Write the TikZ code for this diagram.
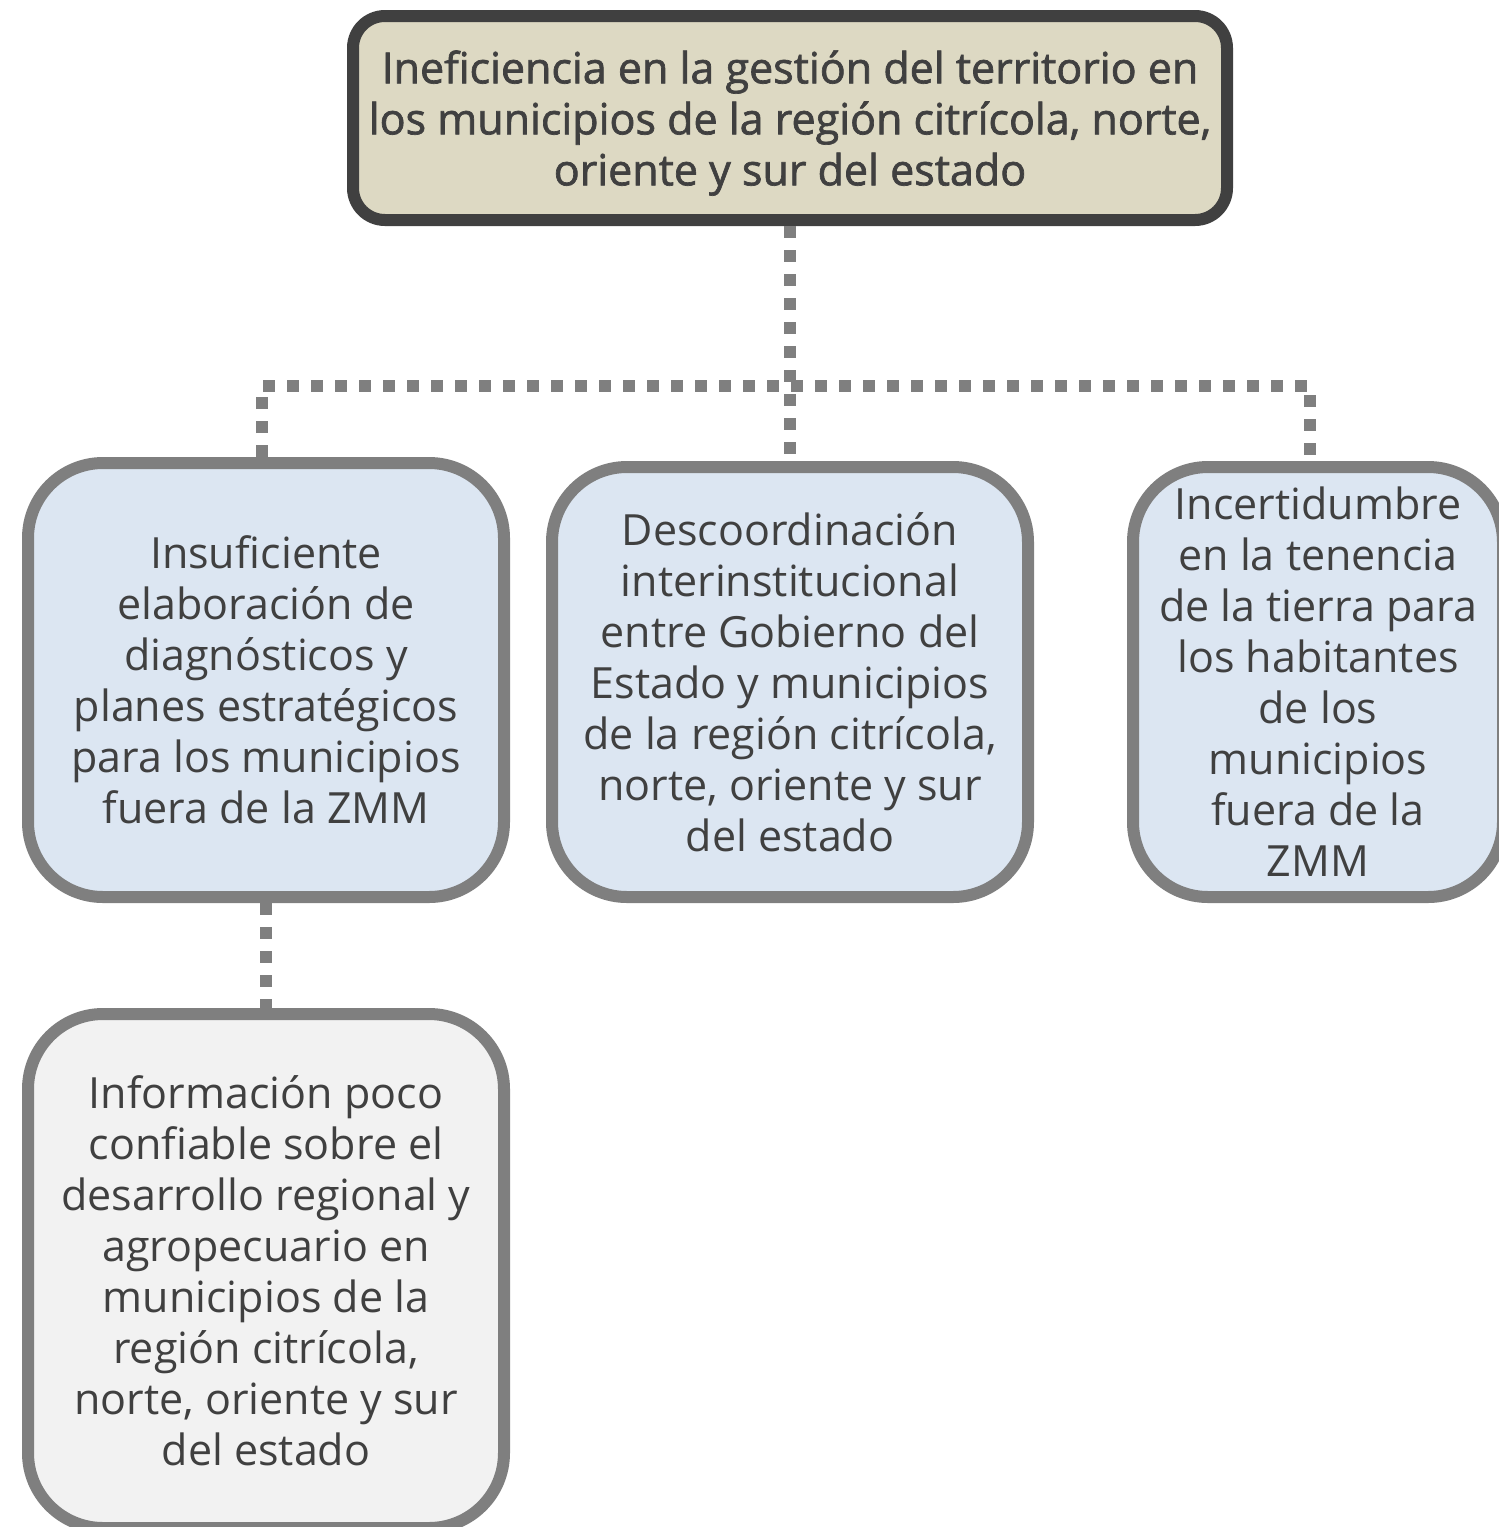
\documentclass[tikz,border=0pt]{standalone}
\usepackage{fontspec}
\setmainfont{Open Sans}[Ligatures=NoCommon]
\newfontfamily\effectfont{Open Sans}[Ligatures=NoCommon, FakeBold=1.6]
\usepackage{tikz}

\definecolor{txtgray}{HTML}{404040}
\definecolor{boxgray}{HTML}{7F7F7F}
\definecolor{effectfill}{HTML}{DDD9C3}
\definecolor{causefill}{HTML}{DCE6F2}
\definecolor{subfill}{HTML}{F2F2F2}

\begin{document}
\begin{tikzpicture}[x=1pt, y=-1pt,
    every node/.style={align=center, text=txtgray, font=\fontsize{43}{51}\selectfont},
    effect/.style={draw=txtgray, fill=effectfill, line width=12pt, rounded corners=32pt,
        minimum width=874pt, minimum height=204pt, inner sep=0pt,
        font=\fontsize{43}{51}\effectfont},
    cause/.style={draw=boxgray, fill=causefill, line width=12pt, rounded corners=75pt,
        minimum height=430pt, inner sep=0pt},
    subcause/.style={cause, fill=subfill},
    link/.style={draw=boxgray, line width=12pt, dash pattern=on 12pt off 12pt}]
    \useasboundingbox (0, 0) rectangle (1499, 1527);
    \node[effect] (prob) at (790, 118)
        {\rule{0pt}{43pt}Ineficiencia en la gestión del territorio en\\
         los municipios de la región citrícola, norte,\\
         oriente y sur del estado};
    \node[cause, minimum width=476pt, minimum height=434pt] (diag) at (266, 680)
        {Insuficiente\\ elaboración de\\ diagnósticos y\\ planes estratégicos\\
         para los municipios\\ fuera de la ZMM};
    \node[cause, minimum width=476pt] (coord) at (790, 682)
        {Descoordinación\\ interinstitucional\\ entre Gobierno del\\ Estado y municipios\\
         de la región citrícola,\\ norte, oriente y sur\\ del estado};
    \node[cause, minimum width=370pt] (tenen) at (1318, 682)
        {Incertidumbre\\ en la tenencia\\ de la tierra para\\ los habitantes\\ de los\\
         municipios\\ fuera de la\\ ZMM};
    \node[subcause, minimum width=476pt, minimum height=514pt] (info) at (266, 1271)
        {Información poco\\ confiable sobre el\\ desarrollo regional y\\ agropecuario en\\
         municipios de la\\ región citrícola,\\ norte, oriente y sur\\ del estado};
    \coordinate (hub) at (790, 386);
    \path[link] (prob.south) -- (coord.north);
    \path[link] ([xshift=-4pt]diag.north) |- (hub) -| ([xshift=-8pt]tenen.north);
    \path[link] (diag.south) -- (info.north);
\end{tikzpicture}
\end{document}
